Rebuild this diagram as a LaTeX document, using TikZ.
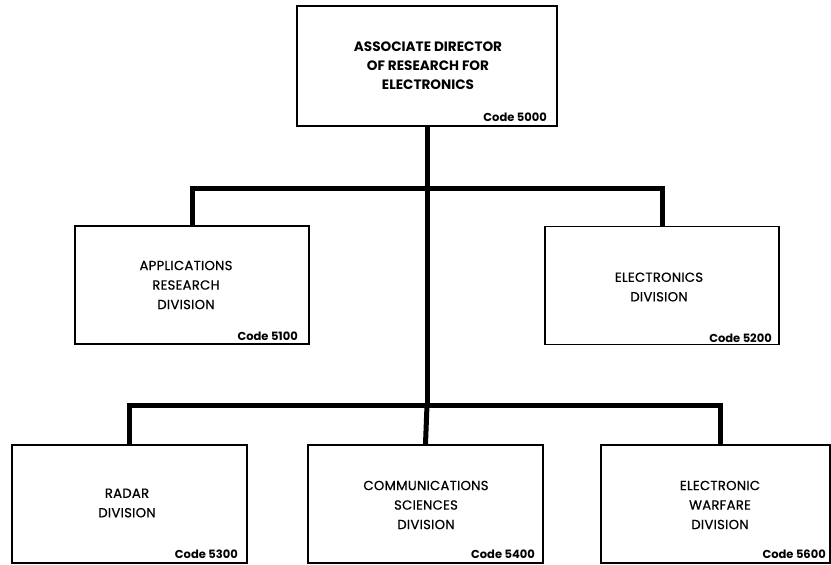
\documentclass[tikz,border=0pt]{standalone}
\usepackage{fontspec}
\setmainfont{Poppins}
\newfontfamily\divfont{Poppins}[FakeBold=0.6,LetterSpace=2]
\begin{document}
\begin{tikzpicture}[x=1pt,y=-1pt,
  box/.style={draw=black,line width=1.5pt,fill=white,rectangle,inner sep=0pt,minimum height=118pt},
  conn/.style={line width=5pt,line join=miter,line cap=butt},
  divtext/.style={align=center,inner sep=0pt,font=\divfont\fontsize{13.2}{19.5}\selectfont},
  toptext/.style={align=center,inner sep=0pt,font=\fontsize{13.6}{19}\selectfont\bfseries},
  codetext/.style={anchor=east,inner sep=0pt,font=\fontsize{11.5}{13}\selectfont\bfseries}]
\useasboundingbox (0,0) rectangle (831,565);
% junctions
\coordinate (j1) at (427,188);
\coordinate (j2) at (427,405);
% boxes
\node[box,minimum width=260pt,minimum height=120pt] (b0) at (427,66) {};
\node[box,minimum width=234pt] (b1) at (192,285) {};
\node[box,minimum width=234pt] (b2) at (662,285.5) {};
\node[box,minimum width=235pt] (b3) at (129.5,504) {};
\node[box,minimum width=235pt] (b4) at (425.5,504) {};
\node[box,minimum width=229pt] (b5) at (715.5,504) {};
\coordinate (d5) at ([xshift=4.5pt]b5.north);
% connectors
\draw[conn] (b0.south) -- (j2);
\draw[conn] (b1.north) |- (j1) -| (b2.north);
\draw[conn] (b3.north) |- (j2) -| (d5);
\draw[conn] (j2) -- (b4.north);
% texts
\node[toptext] (t0) at (428,66) {ASSOCIATE DIRECTOR\\OF RESEARCH FOR\\ELECTRONICS};
\node[divtext] (t1) at (186,285) {APPLICATIONS\\RESEARCH\\DIVISION};
\node[divtext] (t2) at (659,287) {ELECTRONICS\\DIVISION};
\node[divtext] (t3) at (127,503) {RADAR\\DIVISION};
\node[divtext] (t4) at (426,505) {COMMUNICATIONS\\SCIENCES\\DIVISION};
\node[divtext] (t5) at (720,505) {ELECTRONIC\\WARFARE\\DIVISION};
% codes
\node[codetext] (c0) at (547,117) {Code 5000};
\node[codetext] (c1) at (298,336) {Code 5100};
\node[codetext] (c2) at (772,338) {Code 5200};
\node[codetext] (c3) at (238,554) {Code 5300};
\node[codetext] (c4) at (535,554) {Code 5400};
\node[codetext] (c5) at (826,554) {Code 5600};
\end{tikzpicture}
\end{document}
